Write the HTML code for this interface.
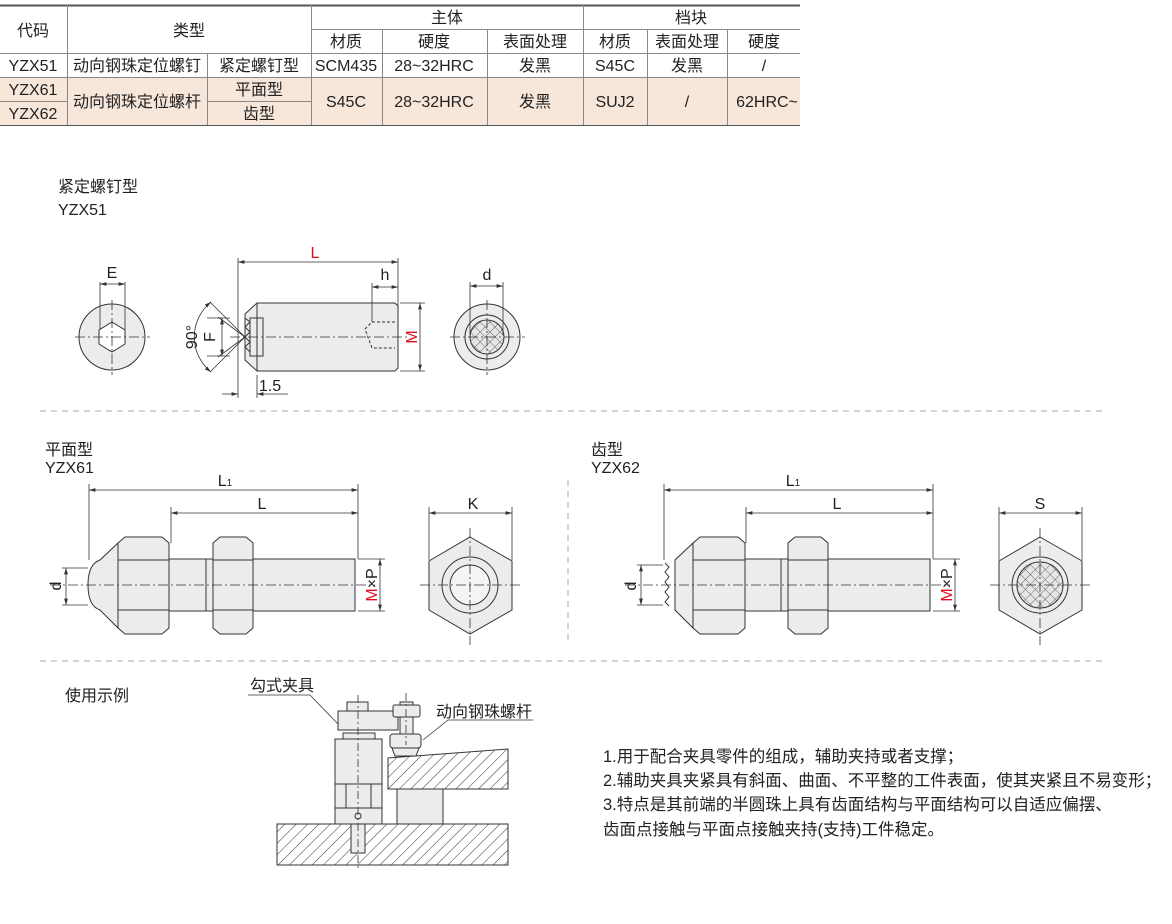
<!DOCTYPE html>
<html><head><meta charset="utf-8"><style>
body{margin:0;background:#fff;width:1172px;height:924px;overflow:hidden;font-family:"Liberation Sans","Noto Sans CJK SC",sans-serif;}
svg{position:absolute;left:0;top:0}
text{font-family:"Liberation Sans","Noto Sans CJK SC",sans-serif;fill:#222}
</style></head><body>
<svg width="1172" height="924" viewBox="0 0 1172 924">
<defs>
<pattern id="h" width="8" height="8" patternUnits="userSpaceOnUse" patternTransform="rotate(45)"><rect width="8" height="8" fill="#fff"/><line x1="0" y1="0" x2="0" y2="8" stroke="#333" stroke-width="1"/></pattern>
<pattern id="x" width="7" height="7" patternUnits="userSpaceOnUse" patternTransform="rotate(45)"><rect width="7" height="7" fill="#e6e6e6"/><path d="M0 0V7M0 0H7" stroke="#444" stroke-width="0.8"/></pattern>
<marker id="a" viewBox="0 0 10 6" refX="10" refY="3" markerWidth="8" markerHeight="5" orient="auto-start-reverse"><path d="M0 0L10 3L0 6z" fill="#333"/></marker>
</defs>
<!-- table -->
<rect x="0" y="77" width="800" height="48" fill="#f7e7db"/>
<g stroke="#888" stroke-width="1" fill="none">
<line x1="0" y1="5.5" x2="800" y2="5.5" stroke="#555" stroke-width="2"/>
<line x1="311" y1="29.5" x2="800" y2="29.5"/>
<line x1="0" y1="53.5" x2="800" y2="53.5"/>
<line x1="0" y1="77.5" x2="800" y2="77.5"/>
<line x1="0" y1="101.5" x2="67" y2="101.5"/><line x1="207" y1="101.5" x2="311" y2="101.5"/>
<line x1="0" y1="125.5" x2="800" y2="125.5" stroke="#555"/>
<line x1="67.5" y1="5" x2="67.5" y2="125"/>
<line x1="207.5" y1="53" x2="207.5" y2="125"/>
<line x1="311.5" y1="5" x2="311.5" y2="125"/>
<line x1="382.5" y1="29" x2="382.5" y2="125"/>
<line x1="487.5" y1="29" x2="487.5" y2="125"/>
<line x1="583.5" y1="5" x2="583.5" y2="125"/>
<line x1="647.5" y1="29" x2="647.5" y2="125"/>
<line x1="727.5" y1="29" x2="727.5" y2="125"/>
</g>
<g font-size="16" text-anchor="middle">
<text x="33" y="36">代码</text><text x="189" y="36">类型</text>
<text x="447" y="23">主体</text><text x="691" y="23">档块</text>
<text x="346" y="47">材质</text><text x="434" y="47">硬度</text><text x="535" y="47">表面处理</text>
<text x="615" y="47">材质</text><text x="687" y="47">表面处理</text><text x="764" y="47">硬度</text>
<text x="33" y="71">YZX51</text><text x="137" y="71">动向钢珠定位螺钉</text><text x="259" y="71">紧定螺钉型</text>
<text x="346" y="71">SCM435</text><text x="434" y="71">28~32HRC</text><text x="535" y="71">发黑</text>
<text x="615" y="71">S45C</text><text x="687" y="71">发黑</text><text x="764" y="71">/</text>
<text x="33" y="95">YZX61</text><text x="33" y="119">YZX62</text>
<text x="137" y="107">动向钢珠定位螺杆</text><text x="259" y="95">平面型</text><text x="259" y="119">齿型</text>
<text x="346" y="107">S45C</text><text x="434" y="107">28~32HRC</text><text x="535" y="107">发黑</text>
<text x="615" y="107">SUJ2</text><text x="687" y="107">/</text><text x="767" y="107">62HRC~</text>
</g>
<rect x="801" y="0" width="371" height="130" fill="#fff"/>
<g font-size="16">
<text x="58" y="192">紧定螺钉型</text><text x="58" y="215">YZX51</text>
<text x="45" y="455">平面型</text><text x="45" y="473">YZX61</text>
<text x="591" y="455">齿型</text><text x="591" y="473">YZX62</text>
<text x="65" y="701">使用示例</text>
</g>
<g font-size="16.5">
<text x="603" y="762">1.用于配合夹具零件的组成，辅助夹持或者支撑；</text>
<text x="603" y="786">2.辅助夹具夹紧具有斜面、曲面、不平整的工件表面，使其夹紧且不易变形；</text>
<text x="603" y="810">3.特点是其前端的半圆珠上具有齿面结构与平面结构可以自适应偏摆、</text>
<text x="603" y="835">齿面点接触与平面点接触夹持(支持)工件稳定。</text>
</g>
<g stroke="#aaa" stroke-dasharray="6,5"><line x1="40" y1="411" x2="1102" y2="411"/><line x1="40" y1="661" x2="1102" y2="661"/><line x1="568" y1="480" x2="568" y2="640"/></g>
<!-- YZX51 -->
<g stroke="#333" stroke-width="1" fill="#ececec">
<circle cx="112" cy="337" r="33"/>
<polygon points="112,322 125,330 125,344 112,352 99,344 99,330" fill="#fff"/>
<polygon points="245,314 257,303 395,303 398,306 398,368 395,371 257,371 245,360"/>
<line x1="257" y1="303" x2="257" y2="371"/>
<path d="M245 318 l5 4 l-5 5 l5 5 l-5 5 l5 5 l-5 5 l5 5" fill="none"/>
<rect x="250" y="318" width="13" height="38" fill="none"/>
<path d="M395 322 H372 L365 329 L372 348 H395" fill="none" stroke-dasharray="3,2"/>
<circle cx="487" cy="337" r="33"/><circle cx="487" cy="337" r="22"/>
<circle cx="487" cy="337" r="17" fill="url(#x)"/>
</g>
<g stroke="#333" stroke-width="0.8" fill="none">
<path d="M75 337H150M112 300V375M450 337H525M487 300V375M230 337H410" stroke-dasharray="10,3,2,3"/>
<line x1="100" y1="282" x2="100" y2="330"/><line x1="125" y1="282" x2="125" y2="330"/>
<line x1="100" y1="284" x2="125" y2="284" marker-start="url(#a)" marker-end="url(#a)"/>
<line x1="238" y1="258" x2="238" y2="398"/><line x1="398" y1="258" x2="398" y2="306"/>
<line x1="238" y1="262" x2="398" y2="262" marker-start="url(#a)" marker-end="url(#a)"/>
<line x1="372" y1="283" x2="372" y2="322"/>
<line x1="372" y1="287" x2="398" y2="287" marker-start="url(#a)" marker-end="url(#a)"/>
<line x1="400" y1="303" x2="425" y2="303"/><line x1="400" y1="371" x2="425" y2="371"/>
<line x1="420" y1="303" x2="420" y2="371" marker-start="url(#a)" marker-end="url(#a)"/>
<line x1="257" y1="375" x2="257" y2="398"/>
<line x1="222" y1="394" x2="238" y2="394" marker-end="url(#a)"/><line x1="288" y1="394" x2="257" y2="394" marker-end="url(#a)"/>
<line x1="218" y1="317" x2="245" y2="337"/><line x1="218" y1="357" x2="245" y2="337"/>
<line x1="207" y1="318" x2="230" y2="318"/><line x1="207" y1="356" x2="230" y2="356"/>
<line x1="222" y1="318" x2="222" y2="356" marker-start="url(#a)" marker-end="url(#a)"/>
<path d="M211 302 A45 45 0 0 0 211 372" marker-start="url(#a)" marker-end="url(#a)"/>
<line x1="210" y1="302" x2="245" y2="337"/><line x1="210" y1="372" x2="245" y2="337"/>
<line x1="470" y1="282" x2="470" y2="335"/><line x1="503" y1="282" x2="503" y2="335"/>
<line x1="470" y1="286" x2="503" y2="286" marker-start="url(#a)" marker-end="url(#a)"/>
</g>
<g font-size="16" text-anchor="middle">
<text x="112" y="278">E</text><text x="315" y="258" style="fill:#e0101a">L</text><text x="385" y="280">h</text>
<text x="487" y="280">d</text><text x="270" y="391">1.5</text>
<text transform="translate(417,337) rotate(-90)" style="fill:#e0101a">M</text>
<text transform="translate(215,337) rotate(-90)">F</text>
<text transform="translate(197,337) rotate(-90)">90°</text>
</g>
<!-- YZX61 -->
<g>
<g stroke="#333" stroke-width="1" fill="#ececec">
<rect x="169" y="559" width="186" height="52"/>
<line x1="206" y1="559" x2="206" y2="611"/>
<path d="M118 543 L100 560 Q88 564 88 585 Q88 606 100 610 L118 628Z"/>
<path d="M118 543 L125 537 H162 L169 543 V628 L162 634 H125 L118 628Z"/>
<path d="M118 560 H169 M118 610 H169"/>
<path d="M213 543 L220 537 H246 L253 543 V628 L246 634 H220 L213 628Z"/>
<path d="M213 560 H253 M213 610 H253"/>
<polygon points="470,537 512,561 512,610 470,634 429,610 429,561"/>
<circle cx="470" cy="585" r="28"/><circle cx="470" cy="585" r="20" fill="#f4f4f4"/>
</g>
<g stroke="#333" stroke-width="0.8" fill="none">
<path d="M50 585H375M420 585H520M470 528V645" stroke-dasharray="10,3,2,3"/>
<line x1="89" y1="484" x2="89" y2="560"/><line x1="358" y1="484" x2="358" y2="559"/><line x1="171" y1="507" x2="171" y2="543"/>
<line x1="89" y1="490" x2="358" y2="490" marker-start="url(#a)" marker-end="url(#a)"/>
<line x1="171" y1="513" x2="358" y2="513" marker-start="url(#a)" marker-end="url(#a)"/>
<line x1="358" y1="559" x2="385" y2="559"/><line x1="358" y1="611" x2="385" y2="611"/>
<line x1="380" y1="559" x2="380" y2="611" marker-start="url(#a)" marker-end="url(#a)"/>
<line x1="62" y1="568" x2="88" y2="568"/><line x1="62" y1="605" x2="88" y2="605"/>
<line x1="66" y1="568" x2="66" y2="605" marker-start="url(#a)" marker-end="url(#a)"/>
<line x1="429" y1="507" x2="429" y2="560"/><line x1="512" y1="507" x2="512" y2="560"/>
<line x1="429" y1="513" x2="512" y2="513" marker-start="url(#a)" marker-end="url(#a)"/>
</g>
</g>
<g font-size="16" text-anchor="middle">
<text x="225" y="486">L<tspan font-size="10">1</tspan></text><text x="262" y="509">L</text><text x="473" y="509">K</text>
<text transform="translate(61,586) rotate(-90)">d</text>
<text transform="translate(377,585) rotate(-90)"><tspan style="fill:#e0101a">M</tspan>×P</text>
</g>
<g transform="translate(575,0)">
<g stroke="#333" stroke-width="1" fill="#ececec">
<rect x="170" y="559" width="185" height="52"/>
<line x1="206" y1="559" x2="206" y2="611"/>
<path d="M118 543 L100 560 V610 L118 628Z"/>
<path d="M90 563 l4 4 l-4 5 l4 5 l-4 5 l4 5 l-4 5 l4 5 l-4 5 l4 4" fill="none"/>
<path d="M118 543 L125 537 H163 L170 543 V628 L163 634 H125 L118 628Z"/>
<path d="M118 560 H170 M118 610 H170"/>
<path d="M213 543 L220 537 H246 L253 543 V628 L246 634 H220 L213 628Z"/>
<path d="M213 560 H253 M213 610 H253"/>
<polygon points="465,537 507,561 507,610 465,634 424,610 424,561"/>
<circle cx="465" cy="585" r="28"/><circle cx="465" cy="585" r="23" fill="url(#x)"/>
</g>
<g stroke="#333" stroke-width="0.8" fill="none">
<path d="M50 585H375M415 585H515M465 528V645" stroke-dasharray="10,3,2,3"/>
<line x1="89" y1="484" x2="89" y2="560"/><line x1="358" y1="484" x2="358" y2="559"/><line x1="171" y1="507" x2="171" y2="543"/>
<line x1="89" y1="490" x2="358" y2="490" marker-start="url(#a)" marker-end="url(#a)"/>
<line x1="171" y1="513" x2="358" y2="513" marker-start="url(#a)" marker-end="url(#a)"/>
<line x1="358" y1="559" x2="385" y2="559"/><line x1="358" y1="611" x2="385" y2="611"/>
<line x1="380" y1="559" x2="380" y2="611" marker-start="url(#a)" marker-end="url(#a)"/>
<line x1="62" y1="565" x2="88" y2="565"/><line x1="62" y1="605" x2="88" y2="605"/>
<line x1="66" y1="565" x2="66" y2="605" marker-start="url(#a)" marker-end="url(#a)"/>
<line x1="424" y1="507" x2="424" y2="560"/><line x1="507" y1="507" x2="507" y2="560"/>
<line x1="424" y1="513" x2="507" y2="513" marker-start="url(#a)" marker-end="url(#a)"/>
</g>
<g font-size="16" text-anchor="middle">
<text x="218" y="486">L<tspan font-size="10">1</tspan></text><text x="262" y="509">L</text><text x="465" y="509">S</text>
<text transform="translate(61,586) rotate(-90)">d</text>
<text transform="translate(377,585) rotate(-90)"><tspan style="fill:#e0101a">M</tspan>×P</text>
</g>
</g>
<!-- usage -->
<g stroke="#333" stroke-width="1">
<rect x="277" y="824" width="231" height="41" fill="url(#h)"/>
<rect x="351" y="824" width="14" height="29" fill="#ececec"/>
<polygon points="388,758 508,749 508,789 388,789" fill="url(#h)"/>
<rect x="397" y="789" width="46" height="35" fill="#ececec"/>
<rect x="335" y="739" width="47" height="85" fill="#ececec"/>
<path d="M335 784H382M335 808H382M346 784V808M371 784V808" fill="none"/>
<circle cx="358" cy="816" r="3" fill="none"/>
<rect x="343" y="733" width="32" height="6" fill="#ececec"/>
<rect x="338" y="711" width="60" height="19" fill="#ececec"/>
<rect x="347" y="702" width="21" height="9" fill="#ececec"/>
<rect x="400" y="702" width="13" height="38" fill="#ececec"/>
<rect x="393" y="705" width="27" height="12" rx="2" fill="#ececec"/>
<rect x="390" y="734" width="31" height="14" rx="3" fill="#ececec"/>
<path d="M392 748 H419 L416 756 H395Z" fill="#ececec"/>
</g>
<g stroke="#333" stroke-width="0.8" fill="none">
<path d="M358 695V870M406 693V745" stroke-dasharray="8,3,2,3"/>
<path d="M248 695H310L338 724"/><path d="M533 720H448L423 740"/>
</g>
<g font-size="16"><text x="250" y="691">勾式夹具</text><text x="436" y="717">动向钢珠螺杆</text></g>
</svg>
</body></html>
